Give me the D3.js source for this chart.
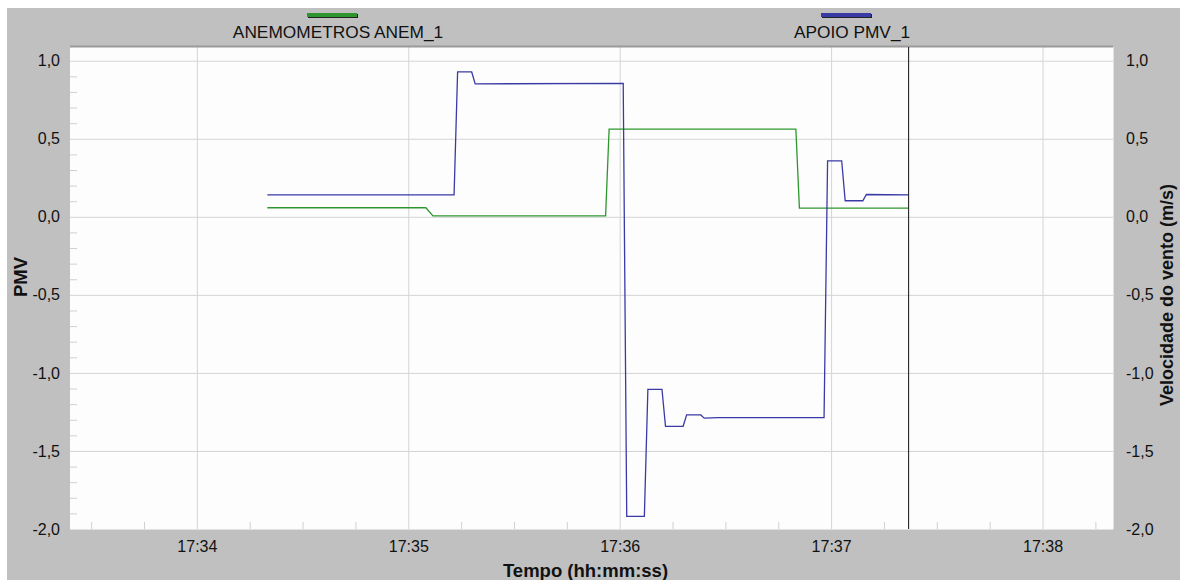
<!DOCTYPE html>
<html>
<head>
<meta charset="utf-8">
<script src="https://cdn.jsdelivr.net/npm/d3@7"></script>
<style>
    body { margin: 0; background: #fff; }
    svg { display: block; font-family: "Liberation Sans", Arial, sans-serif; }
</style>
</head>
<body>
<svg id="js-chart"></svg>
<script>
'use strict';

const seriesNames = ['ANEMOMETROS ANEM_1', 'APOIO PMV_1'];
const seriesColors = ['#2f962f', '#3a3aa6'];

const anemTimes = ['17:34:20', '17:35:05', '17:35:07', '17:35:56', '17:35:57', '17:36:50', '17:36:51', '17:37:22'];
const anemValues = [0.058, 0.058, 0.006, 0.006, 0.562, 0.562, 0.056, 0.056];

const pmvTimes = ['17:34:20', '17:35:13', '17:35:14', '17:35:18', '17:35:19', '17:36:01', '17:36:02', '17:36:07',
    '17:36:08', '17:36:12', '17:36:13', '17:36:18', '17:36:19', '17:36:23', '17:36:24', '17:36:28',
    '17:36:58', '17:36:59', '17:37:03', '17:37:04', '17:37:09', '17:37:10', '17:37:22'];
const pmvValues = [0.141, 0.141, 0.928, 0.928, 0.852, 0.855, -1.919, -1.919,
    -1.105, -1.105, -1.342, -1.342, -1.269, -1.269, -1.29, -1.286,
    -1.286, 0.359, 0.359, 0.103, 0.103, 0.143, 0.141];

const yTicks = [1.0, 0.5, 0.0, -0.5, -1.0, -1.5, -2.0];
const xTicks = ['17:34:00', '17:35:00', '17:36:00', '17:37:00', '17:38:00'];
const xDomain = ['17:33:24', '17:38:20'];
const yDomain = [-2.0, 1.088];
const cursorTime = '17:37:22';

(function () {
    const d3 = window.d3;

    const parse = d3.timeParse('%H:%M:%S');
    const fmtY = v => d3.format('.1f')(v).replace('.', ',').replace('\u2212', '-');

    const width = 1180;
    const height = 580;
    const plot = {left: 70, top: 47, right: 1113, bottom: 529};

    const x = d3.scaleTime()
        .domain(xDomain.map(parse))
        .range([plot.left, plot.right]);

    const y = d3.scaleLinear()
        .domain(yDomain)
        .range([plot.bottom, plot.top]);

    const svg = d3.select('#js-chart')
        .attr('width', width)
        .attr('height', height);

    // grey frame
    svg.append('rect')
        .attr('x', 7)
        .attr('y', 8)
        .attr('width', width - 7)
        .attr('height', height - 8)
        .attr('fill', '#c0c0c0');

    svg.append('rect')
        .attr('x', plot.left)
        .attr('y', plot.top)
        .attr('width', plot.right - plot.left)
        .attr('height', plot.bottom - plot.top)
        .attr('fill', '#fdfdfd');

    // grid
    const gridX = svg.append('g')
        .attr('transform', `translate(0, ${plot.bottom})`)
        .call(d3.axisBottom(x)
            .tickValues(xTicks.map(parse))
            .tickSize(-(plot.bottom - plot.top))
            .tickFormat(''));

    gridX.select('.domain').remove();
    gridX.selectAll('line').attr('stroke', '#d4d4d4');

    const gridY = svg.append('g')
        .attr('transform', `translate(${plot.left}, 0)`)
        .call(d3.axisLeft(y)
            .tickValues(yTicks)
            .tickSize(-(plot.right - plot.left))
            .tickFormat(''));

    gridY.select('.domain').remove();
    gridY.selectAll('line').attr('stroke', '#d4d4d4');

    // minor ticks
    const minorY = d3.range(-20, 11).map(d => d / 10).filter(d => Math.round(d * 10) % 5 !== 0);
    const minorTicksY = svg.append('g')
        .attr('transform', `translate(${plot.left}, 0)`)
        .call(d3.axisLeft(y)
            .tickValues(minorY)
            .tickSize(-7)
            .tickFormat(''));

    minorTicksY.select('.domain').remove();
    minorTicksY.selectAll('line').attr('stroke', '#d0d0d0');

    const minorX = d3.timeSecond.every(15)
        .range(...x.domain())
        .filter(d => d.getSeconds() !== 0);
    const minorTicksX = svg.append('g')
        .attr('transform', `translate(0, ${plot.bottom})`)
        .call(d3.axisBottom(x)
            .tickValues(minorX)
            .tickSize(-7)
            .tickFormat(''));

    minorTicksX.select('.domain').remove();
    minorTicksX.selectAll('line').attr('stroke', '#d0d0d0');

    // plot borders
    svg.append('line')
        .attr('x1', plot.left).attr('x2', plot.right)
        .attr('y1', plot.top - 0.5).attr('y2', plot.top - 0.5)
        .attr('stroke', '#9a9a9a')
        .attr('stroke-width', 2);

    svg.append('line')
        .attr('x1', plot.left).attr('x2', plot.right)
        .attr('y1', plot.bottom + 0.5).attr('y2', plot.bottom + 0.5)
        .attr('stroke', '#e2e2e2');

    svg.append('line')
        .attr('x1', plot.right + 0.5).attr('x2', plot.right + 0.5)
        .attr('y1', plot.top).attr('y2', plot.bottom)
        .attr('stroke', '#e2e2e2');

    // axis labels
    const axisLeft = svg.append('g')
        .attr('transform', `translate(${plot.left}, 0)`)
        .call(d3.axisLeft(y)
            .tickValues(yTicks)
            .tickSize(0)
            .tickPadding(10)
            .tickFormat(fmtY));

    const axisRight = svg.append('g')
        .attr('transform', `translate(${plot.right}, 0)`)
        .call(d3.axisRight(y)
            .tickValues(yTicks)
            .tickSize(0)
            .tickPadding(13)
            .tickFormat(fmtY));

    const axisBottom = svg.append('g')
        .attr('transform', `translate(0, ${plot.bottom})`)
        .call(d3.axisBottom(x)
            .tickValues(xTicks.map(parse))
            .tickSize(0)
            .tickPadding(12)
            .tickFormat(d3.timeFormat('%H:%M')));

    [axisLeft, axisRight, axisBottom].forEach(a => {
        a.select('.domain').remove();
        a.selectAll('text')
            .attr('font-family', '"Liberation Sans", Arial, sans-serif')
            .attr('font-size', 16)
            .attr('fill', '#111');
    });

    svg.append('text')
        .attr('x', (plot.left + plot.right) / 2 - 6)
        .attr('y', 577)
        .attr('text-anchor', 'middle')
        .attr('font-size', 18.5)
        .attr('font-weight', 'bold')
        .attr('fill', '#111')
        .text('Tempo (hh:mm:ss)');

    svg.append('text')
        .attr('transform', `translate(27, 277) rotate(-90)`)
        .attr('text-anchor', 'middle')
        .attr('font-size', 18.5)
        .attr('font-weight', 'bold')
        .attr('fill', '#111')
        .text('PMV');

    svg.append('text')
        .attr('transform', `translate(1173, 295) rotate(-90)`)
        .attr('text-anchor', 'middle')
        .attr('font-size', 18)
        .attr('font-weight', 'bold')
        .attr('fill', '#111')
        .text('Velocidade do vento (m/s)');

    // series
    const line = d3.line()
        .x(d => x(d.t))
        .y(d => y(d.v));

    const series = [
        {name: seriesNames[0], color: seriesColors[0], times: anemTimes, values: anemValues},
        {name: seriesNames[1], color: seriesColors[1], times: pmvTimes, values: pmvValues}
    ];

    series.forEach(s => {
        const pts = s.times.map((t, i) => ({t: parse(t), v: s.values[i]}));
        svg.append('path')
            .datum(pts)
            .attr('d', line)
            .attr('fill', 'none')
            .attr('stroke', s.color)
            .attr('stroke-width', 1.3);
    });

    // cursor
    svg.append('line')
        .attr('x1', x(parse(cursorTime)))
        .attr('x2', x(parse(cursorTime)))
        .attr('y1', plot.top)
        .attr('y2', plot.bottom)
        .attr('stroke', '#111')
        .attr('stroke-width', 1);

    // legend
    const legendX = [338, 852];
    const legend = svg.selectAll('.legend')
        .data(series)
        .join('g')
        .attr('class', 'legend')
        .attr('transform', (d, i) => `translate(${legendX[i]}, 0)`);

    legend.append('rect')
        .attr('x', -30)
        .attr('y', 14)
        .attr('width', 50)
        .attr('height', 4)
        .attr('fill', '#222');

    legend.append('rect')
        .attr('x', -31)
        .attr('y', 13)
        .attr('width', 50)
        .attr('height', 4)
        .attr('fill', d => d.color);

    legend.append('text')
        .attr('y', 38)
        .attr('text-anchor', 'middle')
        .attr('font-size', 17.3)
        .attr('fill', '#111')
        .text(d => d.name);
})();
</script>
</body>
</html>
